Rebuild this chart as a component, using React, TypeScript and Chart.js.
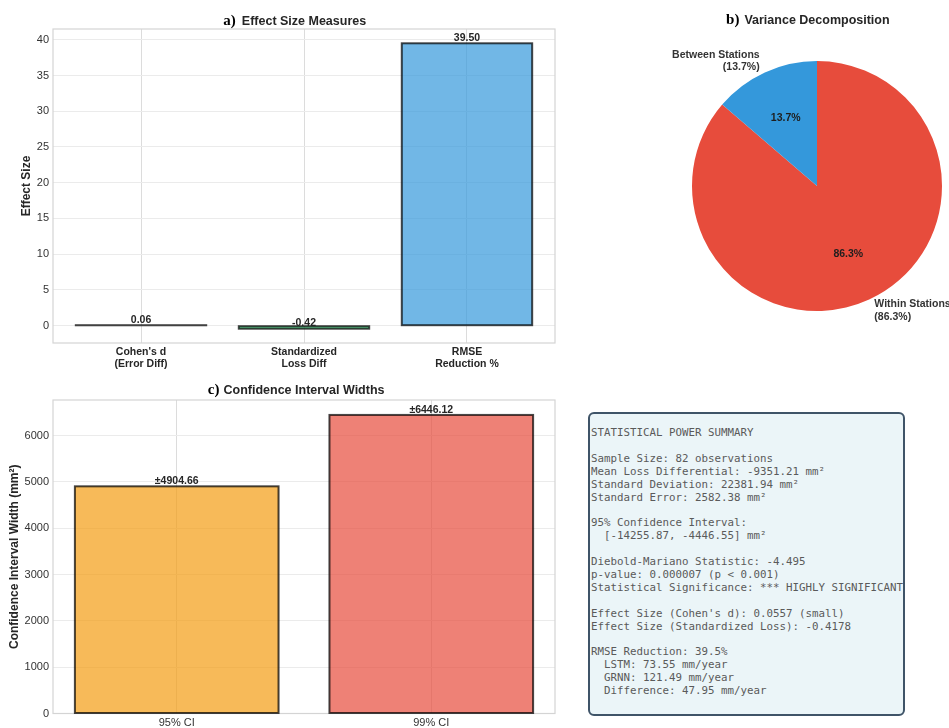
import React, { useEffect, useRef } from 'react';
import { Chart, registerables } from 'chart.js';

Chart.register(...registerables);
Chart.defaults.font.family = '"Liberation Sans", Arial, sans-serif';
Chart.defaults.color = '#333333';

// ---- data -----------------------------------------------------------------
const effectCategories: string[][] = [
  ["Cohen's d", '(Error Diff)'],
  ['Standardized', 'Loss Diff'],
  ['RMSE', 'Reduction %'],
];
const effectValues = [0.06, -0.42, 39.5];
const effectColors = ['rgba(149,165,166,0.7)', 'rgba(46,204,113,0.7)', 'rgba(52,152,219,0.7)'];
const effectTicks = [0, 5, 10, 15, 20, 25, 30, 35, 40];

const varianceLabels = ['Within Stations', 'Between Stations'];
const varianceShares = [86.3, 13.7];
const varianceColors = ['#e74c3c', '#3498db'];

const ciLabels = ['95% CI', '99% CI'];
const ciWidths = [4904.66, 6446.12];
const ciColors = ['rgba(243,156,18,0.7)', 'rgba(231,76,60,0.7)'];
const ciTicks = [0, 1000, 2000, 3000, 4000, 5000, 6000];

const summaryLines = [
  'STATISTICAL POWER SUMMARY',
  '',
  'Sample Size: 82 observations',
  'Mean Loss Differential: -9351.21 mm²',
  'Standard Deviation: 22381.94 mm²',
  'Standard Error: 2582.38 mm²',
  '',
  '95% Confidence Interval:',
  '  [-14255.87, -4446.55] mm²',
  '',
  'Diebold-Mariano Statistic: -4.495',
  'p-value: 0.000007 (p < 0.001)',
  'Statistical Significance: *** HIGHLY SIGNIFICANT',
  '',
  "Effect Size (Cohen's d): 0.0557 (small)",
  'Effect Size (Standardized Loss): -0.4178',
  '',
  'RMSE Reduction: 39.5%',
  '  LSTM: 73.55 mm/year',
  '  GRNN: 121.49 mm/year',
  '  Difference: 47.95 mm/year',
];

// ---- shared plugins ---------------------------------------------------------
const TEXT_DARK = '#262626';

function panelTitle(letter: string, text: string, baseline: number, gap: number) {
  return {
    id: 'panelTitle',
    afterDraw(chart: any) {
      const { ctx, chartArea } = chart;
      const cx = (chartArea.left + chartArea.right) / 2;
      ctx.save();
      ctx.font = 'bold 12.5px "Liberation Sans"';
      ctx.fillStyle = TEXT_DARK;
      ctx.textAlign = 'center';
      ctx.textBaseline = 'alphabetic';
      const w = ctx.measureText(text).width;
      ctx.fillText(text, cx, baseline);
      ctx.font = 'bold 15px "Liberation Serif"';
      ctx.fillStyle = '#000000';
      ctx.textAlign = 'right';
      ctx.fillText(letter, cx - w / 2 - gap, baseline);
      ctx.restore();
    },
  };
}

const plotFrame = {
  id: 'plotFrame',
  beforeDatasetsDraw(chart: any) {
    const { ctx, chartArea } = chart;
    ctx.save();
    ctx.strokeStyle = '#d4d4d4';
    ctx.lineWidth = 1.2;
    ctx.strokeRect(chartArea.left, chartArea.top, chartArea.right - chartArea.left, chartArea.bottom - chartArea.top);
    ctx.restore();
  },
};

function barDecorations(fmt: (v: number) => string) {
  return {
    id: 'barDecorations',
    afterDatasetsDraw(chart: any) {
      const { ctx } = chart;
      const meta = chart.getDatasetMeta(0);
      const data = chart.data.datasets[0].data as { x: number; y: number }[];
      ctx.save();
      // bar edges
      ctx.strokeStyle = 'rgba(0,0,0,0.72)';
      ctx.lineWidth = 2;
      meta.data.forEach((bar: any) => {
        const { x, y, base, width } = bar.getProps(['x', 'y', 'base', 'width'], true);
        ctx.strokeRect(x - width / 2, Math.min(y, base), width, Math.abs(base - y));
      });
      // value labels
      ctx.font = 'bold 10.5px "Liberation Sans"';
      ctx.fillStyle = TEXT_DARK;
      ctx.textAlign = 'center';
      ctx.textBaseline = 'bottom';
      meta.data.forEach((bar: any, i: number) => {
        const { x, y } = bar.getProps(['x', 'y'], true);
        ctx.fillText(fmt(data[i].y), x, y);
      });
      ctx.restore();
    },
  };
}

const pieLabels = {
  id: 'pieLabels',
  afterDatasetsDraw(chart: any) {
    const { ctx } = chart;
    const meta = chart.getDatasetMeta(0);
    const values = chart.data.datasets[0].data as number[];
    ctx.save();
    ctx.font = 'bold 10.5px "Liberation Sans"';
    ctx.textBaseline = 'middle';
    meta.data.forEach((arc: any, i: number) => {
      const { x, y, startAngle, endAngle, outerRadius } = arc.getProps(
        ['x', 'y', 'startAngle', 'endAngle', 'outerRadius'],
        true
      );
      const mid = (startAngle + endAngle) / 2;
      const c = Math.cos(mid);
      const s = Math.sin(mid);
      const pct = `${values[i].toFixed(1)}%`;
      ctx.fillStyle = '#1e1e1e';
      ctx.textAlign = 'center';
      ctx.fillText(pct, x + c * outerRadius * 0.6, y + s * outerRadius * 0.6);
      const lx = x + c * outerRadius * 1.1;
      const ly = y + s * outerRadius * 1.1;
      ctx.fillStyle = '#333333';
      ctx.textAlign = c >= 0 ? 'left' : 'right';
      const lines = [varianceLabels[i], `(${pct})`];
      lines.forEach((t, k) => ctx.fillText(t, lx, ly + (k - (lines.length - 1) / 2) * 12.8));
    });
    ctx.restore();
  },
};

const fixedTicks = (values: number[]) => (scale: any) => {
  scale.ticks = values.map((value) => ({ value }));
};

// ---- panels -----------------------------------------------------------------
function EffectSizeChart() {
  const ref = useRef<HTMLCanvasElement>(null);
  useEffect(() => {
    const chart = new Chart(ref.current!, {
      type: 'bar',
      data: {
        datasets: [
          {
            data: effectValues.map((v, i) => ({ x: i, y: v })),
            backgroundColor: effectColors,
            borderWidth: 0,
            barPercentage: 0.8,
            categoryPercentage: 1,
          },
        ],
      },
      options: {
        responsive: false,
        animation: false,
        layout: { padding: { left: 0, top: 29, right: 25, bottom: 0 } },
        plugins: { legend: { display: false }, tooltip: { enabled: false } },
        scales: {
          x: {
            type: 'linear',
            min: -0.54,
            max: 2.54,
            offset: false,
            grid: { color: '#dcdcdc', drawTicks: false, offset: false },
            border: { display: false },
            afterBuildTicks: fixedTicks(effectCategories.map((_, i) => i)),
            ticks: {
              padding: 3,
              color: TEXT_DARK,
              font: { size: 10.5, weight: 'bold', lineHeight: 1.15 },
              callback: (v: any) => effectCategories[v as number] ?? '',
            },
            afterFit: (s: any) => {
              s.height = 37;
            },
          },
          y: {
            min: -2.42,
            max: 41.5,
            grid: { color: '#ebebeb', drawTicks: false },
            border: { display: false },
            afterBuildTicks: fixedTicks(effectTicks),
            ticks: { padding: 4, font: { size: 11 }, callback: (v: any) => String(v) },
            title: {
              display: true,
              text: 'Effect Size',
              color: TEXT_DARK,
              font: { size: 12, weight: 'bold' },
              padding: { top: 19.8, bottom: 0 },
            },
            afterFit: (s: any) => {
              s.width = 53;
            },
          },
        },
      } as any,
      plugins: [plotFrame, barDecorations((v) => v.toFixed(2)), panelTitle('a)', 'Effect Size Measures', 24.5, 6)],
    });
    return () => chart.destroy();
  }, []);
  return <canvas ref={ref} width={580} height={380} style={{ position: 'absolute', left: 0, top: 0 }} />;
}

function VarianceChart() {
  const ref = useRef<HTMLCanvasElement>(null);
  useEffect(() => {
    const chart = new Chart(ref.current!, {
      type: 'pie',
      data: {
        labels: varianceLabels,
        datasets: [{ data: varianceShares, backgroundColor: varianceColors, borderWidth: 0 }],
      },
      options: {
        responsive: false,
        animation: false,
        layout: { padding: { left: 52, top: 61, right: 7, bottom: 19 } },
        plugins: { legend: { display: false }, tooltip: { enabled: false } },
      } as any,
      plugins: [pieLabels, panelTitle('b)', 'Variance Decomposition', 24, 5)],
    });
    return () => chart.destroy();
  }, []);
  return <canvas ref={ref} width={309} height={330} style={{ position: 'absolute', left: 640, top: 0 }} />;
}

function ConfidenceChart() {
  const ref = useRef<HTMLCanvasElement>(null);
  useEffect(() => {
    const chart = new Chart(ref.current!, {
      type: 'bar',
      data: {
        datasets: [
          {
            data: ciWidths.map((v, i) => ({ x: i, y: v })),
            backgroundColor: ciColors,
            borderWidth: 0,
            barPercentage: 0.8,
            categoryPercentage: 1,
          },
        ],
      },
      options: {
        responsive: false,
        animation: false,
        layout: { padding: { left: 0, top: 22, right: 25, bottom: 0 } },
        plugins: { legend: { display: false }, tooltip: { enabled: false } },
        scales: {
          x: {
            type: 'linear',
            min: -0.486,
            max: 1.486,
            offset: false,
            grid: { color: '#dcdcdc', drawTicks: false, offset: false },
            border: { display: false },
            afterBuildTicks: fixedTicks(ciLabels.map((_, i) => i)),
            ticks: {
              padding: 3,
              font: { size: 11 },
              callback: (v: any) => ciLabels[v as number] ?? '',
            },
            afterFit: (s: any) => {
              s.height = 14.5;
            },
          },
          y: {
            min: 0,
            max: 6768.4,
            grid: { color: '#ebebeb', drawTicks: false },
            border: { display: false },
            afterBuildTicks: fixedTicks(ciTicks),
            ticks: { padding: 4, font: { size: 11 }, callback: (v: any) => String(v) },
            title: {
              display: true,
              text: 'Confidence Interval Width (mm²)',
              color: TEXT_DARK,
              font: { size: 12, weight: 'bold' },
              padding: { top: 7.8, bottom: 0 },
            },
            afterFit: (s: any) => {
              s.width = 53;
            },
          },
        },
      } as any,
      plugins: [plotFrame, barDecorations((v) => `±${v.toFixed(2)}`), panelTitle('c)', 'Confidence Interval Widths', 15.5, 4)],
    });
    return () => chart.destroy();
  }, []);
  return <canvas ref={ref} width={580} height={350} style={{ position: 'absolute', left: 0, top: 378 }} />;
}

function SummaryBox() {
  return (
    <div
      style={{
        position: 'absolute',
        left: 588,
        top: 412,
        width: 317,
        height: 304,
        boxSizing: 'border-box',
        border: '2px solid #3f5468',
        borderRadius: 6,
        background: '#ebf5f8',
        overflow: 'hidden',
        fontFamily: '"DejaVu Sans Mono", monospace',
        fontSize: 10.8,
        lineHeight: '12.9px',
        color: '#5a5a5a',
        whiteSpace: 'pre',
        padding: '13px 0 0 1px',
      }}
    >
      {summaryLines.join('\n')}
    </div>
  );
}

export default function App() {
  return (
    <div
      style={{
        position: 'absolute',
        left: 0,
        top: 0,
        width: 949,
        height: 728,
        background: '#ffffff',
        overflow: 'hidden',
      }}
    >
      <EffectSizeChart />
      <VarianceChart />
      <ConfidenceChart />
      <SummaryBox />
    </div>
  );
}
